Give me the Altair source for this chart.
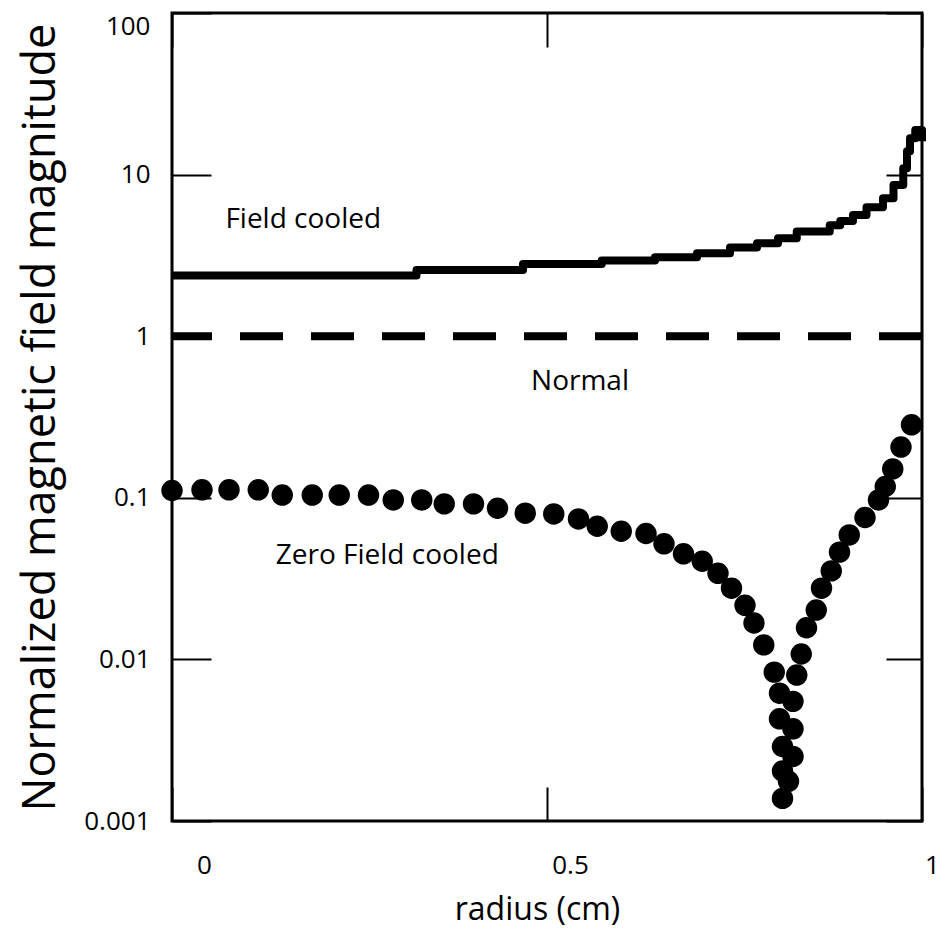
import altair as alt
import pandas as pd

# Zero field cooled (dots): radius (cm) and normalized field
zfc_r = [0.000, 0.040, 0.076, 0.115, 0.147, 0.187, 0.223, 0.262, 0.295, 0.333,
         0.363, 0.402, 0.434, 0.471, 0.509, 0.542, 0.567, 0.599, 0.632, 0.656,
         0.682, 0.707, 0.728, 0.746, 0.764, 0.776, 0.789, 0.803, 0.810, 0.810,
         0.814, 0.814, 0.814, 0.822, 0.828, 0.828, 0.828, 0.833, 0.839, 0.846,
         0.859, 0.866, 0.879, 0.890, 0.903, 0.924, 0.942, 0.951, 0.961, 0.972,
         0.986]
zfc_v = [0.111, 0.112, 0.112, 0.112, 0.104, 0.104, 0.104, 0.104, 0.097, 0.097,
         0.0917, 0.0917, 0.0862, 0.0803, 0.0795, 0.074, 0.0667, 0.0621, 0.0601, 0.0519,
         0.045, 0.0405, 0.0341, 0.0276, 0.0216, 0.0168, 0.0123, 0.00834, 0.00618, 0.00429,
         0.00289, 0.00204, 0.00138, 0.00176, 0.00251, 0.00372, 0.0055, 0.0080, 0.0108, 0.0157,
         0.0202, 0.0276, 0.0353, 0.0461, 0.0589, 0.0755, 0.0970, 0.1175, 0.151, 0.206,
         0.283]

# Field cooled (stepped line)
fc_r = [0.000, 0.326, 0.468, 0.573, 0.644, 0.700, 0.744, 0.780, 0.808, 0.833,
        0.877, 0.891, 0.908, 0.926, 0.948, 0.962, 0.975, 0.980, 0.984, 0.991, 1.000]
fc_v = [2.375, 2.572, 2.802, 2.941, 3.083, 3.263, 3.539, 3.763, 4.042, 4.445,
        4.863, 5.170, 5.63, 6.284, 7.145, 8.637, 10.96, 13.96, 16.8, 18.9, 16.1]

normal_level = [1.0]

ann_text = ["Field cooled", "Normal", "Zero Field cooled"]
ann_r = [0.175, 0.544, 0.287]
ann_v = [5.22, 0.519, 0.0435]

x_ticks = [0, 0.5, 1]
y_ticks = [0.001, 0.01, 0.1, 1, 10, 100]

FONT = "Open Sans"

zfc = pd.DataFrame({"r": zfc_r, "v": zfc_v})
fc = pd.DataFrame({"r": fc_r, "v": fc_v})
normal = pd.DataFrame({"v": normal_level})
ann = pd.DataFrame({"r": ann_r, "v": ann_v, "t": ann_text})

xscale = alt.Scale(domain=[0, 1], nice=False, zero=False)
yscale = alt.Scale(type="log", domain=[0.001, 100], nice=False)

x_bottom = alt.Axis(
    orient="bottom", values=x_ticks, offset=-34, tickSize=34, tickWidth=2,
    tickColor="black", domain=False, grid=False, labelPadding=31,
    labelFont=FONT, labelFontSize=26, labelColor="black", labelFlush=False,
    labelOverlap=False, labelBound=False,
    labelOffset={"condition": [{"test": "datum.value == 0", "value": 32},
                               {"test": "datum.value == 0.5", "value": 23}],
                 "value": 10},
    format="~g", title="radius (cm)", titleFont=FONT, titleFontSize=32,
    titleFontWeight="normal", titleColor="black", titlePadding=16, titleX=365,
)
y_left = alt.Axis(
    orient="left", values=y_ticks, offset=-39, tickSize=39, tickWidth=2,
    tickColor="black", domain=False, grid=False, labelPadding=22,
    labelFont=FONT, labelFontSize=26, labelColor="black", labelFlush=False,
    labelOverlap=False, labelBound=False, format="~g",
    labelBaseline={"condition": {"test": "datum.value == 100", "value": "top"},
                   "value": "middle"},
    title="Normalized magnetic field magnitude", titleFont=FONT,
    titleFontSize=45, titleFontWeight="normal", titleColor="black",
    titlePadding=20,
)
x_top = alt.Axis(
    orient="top", values=x_ticks, offset=-34, tickSize=34, tickWidth=2,
    tickColor="black", domain=False, grid=False, labels=False, title=None,
)
y_right = alt.Axis(
    orient="right", values=y_ticks, offset=-36, tickSize=36, tickWidth=2,
    tickColor="black", domain=False, grid=False, labels=False, title=None,
)

dots = alt.Chart(zfc).mark_circle(size=460, color="black", opacity=1).encode(
    x=alt.X("r:Q", scale=xscale, axis=x_bottom),
    y=alt.Y("v:Q", scale=yscale, axis=y_left),
)

line = alt.Chart(fc).mark_line(
    interpolate="step-after", strokeWidth=8, color="black", strokeJoin="round"
).encode(
    x=alt.X("r:Q", scale=xscale, axis=x_top),
    y=alt.Y("v:Q", scale=yscale, axis=y_right),
)

rule = alt.Chart(normal).mark_rule(
    strokeDash=[43, 28], strokeWidth=8, color="black"
).encode(
    y=alt.Y("v:Q", scale=yscale, axis=None),
)

labels = alt.Chart(ann).mark_text(
    font=FONT, fontSize=28, color="black", align="center", baseline="middle"
).encode(
    x=alt.X("r:Q", scale=xscale, axis=None),
    y=alt.Y("v:Q", scale=yscale, axis=None),
    text="t:N",
)

chart = alt.layer(dots, line, rule, labels).resolve_axis(
    x="independent", y="independent"
).properties(
    width=750, height=808,
    autosize=alt.AutoSizeParams(type="none"),
    padding={"left": 164, "top": 5, "right": 20, "bottom": 108},
).configure_view(stroke="black", strokeWidth=3)

chart.save("out.html", embed_options={"renderer": "svg", "actions": False})
